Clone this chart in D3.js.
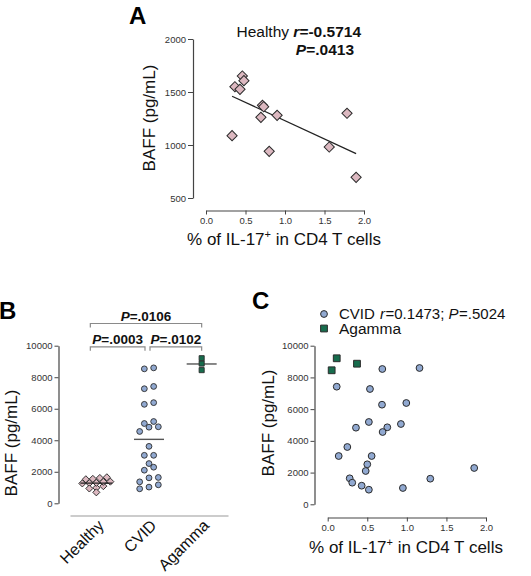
<!DOCTYPE html>
<html>
<head>
<meta charset="utf-8">
<script src="https://cdn.jsdelivr.net/npm/d3@7"></script>
<style>
  body { margin: 0; background: #fff; }
  svg { display: block; font-family: "Liberation Sans", Arial, sans-serif; }
</style>
</head>
<body>
<div id="chart"></div>
<script>
// values
const healthyIL17 = [0.33, 0.366, 0.43, 0.46, 0.48, 0.715, 0.73, 0.695, 0.90, 0.80, 1.56, 1.785, 1.90];
const healthyBAFF = [1088, 1550, 1525, 1651, 1607, 1374, 1361, 1261, 1280, 940, 981, 1299, 695];

const cvidIL17 = [0.69, 1.16, 0.114, 0.534, 0.686, 0.993, 0.52, 0.357, 0.753, 0.694, 0.925, 0.248,
                  0.139, 0.555, 0.50, 0.48, 1.851, 0.278, 1.296, 0.31, 0.429, 0.52, 0.95];
const cvidBAFF = [8531, 8594, 7415, 7270, 6280, 6387, 5190, 4830, 4855, 4558, 5063, 3613,
                  3045, 3045, 2522, 2100, 2290, 1639, 1614, 1362, 1173, 920, 1028];

const agammaIL17 = [0.05, 0.114, 0.37];
const agammaBAFF = [8450, 9206, 8865];

const groups = ['Healthy', 'CVID', 'Agamma'];
const groupBAFF = [healthyBAFF, cvidBAFF, agammaBAFF];

const pctTicks = [0, 0.5, 1, 1.5, 2];
const baffTicksA = [500, 1000, 1500, 2000];
const baffTicks = [0, 2000, 4000, 6000, 8000, 10000];

const brackets = [['Healthy', 'Agamma'], ['Healthy', 'CVID'], ['CVID', 'Agamma']];
const bracketP = ['.0106', '.0003', '.0102'];

const pink = '#dcb8c0', blue = '#91a9d1', green = '#176c4d', ink = '#2b2b2b';

const svg = d3.select('#chart').append('svg')
  .attr('width', 531)
  .attr('height', 576);

function styleAxis(g) {
  g.select('.domain').attr('stroke', '#444').attr('stroke-width', 1.2);
  g.selectAll('.tick line').attr('stroke', '#444');
  g.selectAll('.tick text').attr('fill', '#333').attr('font-size', 9.5)
    .attr('font-family', '"Liberation Sans", Arial, sans-serif');
}

function xTitle(x, y) {
  const t = svg.append('text')
    .attr('x', x).attr('y', y)
    .attr('text-anchor', 'middle')
    .attr('font-size', 17)
    .attr('fill', '#111');
  t.append('tspan').text('% of IL-17');
  t.append('tspan').attr('font-size', 11).attr('dy', -7).text('+');
  t.append('tspan').attr('dy', 7).text(' in CD4 T cells');
}

function yTitle(x, y) {
  svg.append('text')
    .attr('transform', 'translate(' + x + ',' + y + ') rotate(-90)')
    .attr('text-anchor', 'middle')
    .attr('font-size', 17)
    .attr('fill', '#111')
    .text('BAFF (pg/mL)');
}

function panelLabel(x, y, s) {
  svg.append('text')
    .attr('x', x).attr('y', y)
    .attr('font-size', 24)
    .attr('font-weight', 'bold')
    .attr('fill', '#000')
    .text(s);
}

const diamond = (size) => d3.symbol(d3.symbolSquare, size)();
const plain = d3.format('d');

// ---------- panel A ----------
let xA = d3.scaleLinear().domain([0, 2]).range([206, 364]);
let yA = d3.scaleLinear().domain([500, 2000]).range([198, 39]);

svg.append('g')
  .attr('transform', 'translate(193,0)')
  .call(d3.axisLeft(yA).tickValues(baffTicksA).tickFormat(plain).tickSize(5).tickSizeOuter(0).tickPadding(2))
  .call(styleAxis);

svg.append('g')
  .attr('transform', 'translate(0,210.5)')
  .call(d3.axisBottom(xA).tickValues(pctTicks).tickFormat(d3.format('.1f')).tickSize(4).tickSizeOuter(0).tickPadding(3))
  .call(styleAxis);

// least squares fit through the healthy points
const mx = d3.mean(healthyIL17), my = d3.mean(healthyBAFF);
const slope = d3.sum(healthyIL17, (v, i) => (v - mx) * (healthyBAFF[i] - my)) /
              d3.sum(healthyIL17, (v) => (v - mx) * (v - mx));
const fitX = d3.extent(healthyIL17);

svg.append('path')
  .datum(fitX)
  .attr('fill', 'none')
  .attr('stroke', '#222')
  .attr('stroke-width', 1.3)
  .attr('d', d3.line()
    .x((d) => xA(d))
    .y((d) => yA(my + slope * (d - mx))));

svg.append('g')
  .selectAll('path')
  .data(healthyIL17)
  .join('path')
    .attr('transform', (d, i) => 'translate(' + xA(d) + ',' + yA(healthyBAFF[i]) + ') rotate(45)')
    .attr('d', diamond(52))
    .attr('fill', pink)
    .attr('stroke', ink)
    .attr('stroke-width', 1);

let annA = svg.append('text')
  .attr('x', 361).attr('y', 37)
  .attr('text-anchor', 'end')
  .attr('font-size', 15.5)
  .attr('fill', '#111');
annA.append('tspan').text('Healthy ');
annA.append('tspan').attr('font-weight', 'bold').attr('font-style', 'italic').text('r');
annA.append('tspan').attr('font-weight', 'bold').text('=-0.5714');

let annA2 = svg.append('text')
  .attr('x', 354).attr('y', 55)
  .attr('text-anchor', 'end')
  .attr('font-size', 15.5)
  .attr('font-weight', 'bold')
  .attr('fill', '#111');
annA2.append('tspan').attr('font-style', 'italic').text('P');
annA2.append('tspan').text('=.0413');

panelLabel(129, 24, 'A');
yTitle(155, 118);
xTitle(284, 245);

// ---------- panel B ----------
let xB = d3.scalePoint().domain(groups).range([70, 228]).padding(0.5);
let yB = d3.scaleLinear().domain([0, 10000]).range([503.3, 345.7]);

svg.append('g')
  .attr('transform', 'translate(58.5,0)')
  .call(d3.axisLeft(yB).tickValues(baffTicks).tickFormat(plain).tickSize(4).tickSizeOuter(0).tickPadding(2))
  .call(styleAxis);

let gxB = svg.append('g')
  .attr('transform', 'translate(0,515.5)')
  .call(d3.axisBottom(xB).tickSize(0).tickSizeOuter(0))
  .call(styleAxis);
gxB.select('.domain').attr('stroke', '#999');
gxB.selectAll('.tick text')
  .attr('font-size', 16)
  .attr('fill', '#111')
  .attr('text-anchor', 'end')
  .attr('dy', '0')
  .attr('y', 0)
  .attr('transform', 'translate(8,11) rotate(-45)');

// Prism-like column scatter: points close in y share a row, centred on the group
function swarm(values, y, step) {
  const idx = d3.range(values.length).sort((a, b) => values[a] - values[b]);
  const off = new Array(values.length).fill(0);
  let row = [];
  const flush = () => {
    row.forEach((k, i) => { off[k] = (i - (row.length - 1) / 2) * step; });
    row = [];
  };
  idx.forEach((k) => {
    if (row.length && Math.abs(y(values[k]) - y(values[row[0]])) > step * 0.55) flush();
    row.push(k);
  });
  flush();
  return off;
}

// mean lines
svg.append('g')
  .selectAll('line')
  .data(groups)
  .join('line')
    .attr('x1', (d) => xB(d) - 15)
    .attr('x2', (d) => xB(d) + 15)
    .attr('y1', (d, i) => yB(d3.mean(groupBAFF[i])))
    .attr('y2', (d, i) => yB(d3.mean(groupBAFF[i])))
    .attr('stroke', '#555')
    .attr('stroke-width', 1.4);

const offH = swarm(healthyBAFF, yB, 7);
svg.append('g')
  .selectAll('path')
  .data(healthyBAFF)
  .join('path')
    .attr('transform', (d, i) => 'translate(' + (xB('Healthy') + offH[i]) + ',' + yB(d) + ') rotate(45)')
    .attr('d', diamond(25))
    .attr('fill', pink)
    .attr('stroke', ink)
    .attr('stroke-width', 0.9);

// redraw healthy mean over the diamonds, as in the figure
svg.append('line')
  .attr('x1', xB('Healthy') - 16).attr('x2', xB('Healthy') + 16)
  .attr('y1', yB(d3.mean(healthyBAFF))).attr('y2', yB(d3.mean(healthyBAFF)))
  .attr('stroke', '#222').attr('stroke-width', 1.3);

const offC = swarm(cvidBAFF, yB, 9.33);
svg.append('g')
  .selectAll('circle')
  .data(cvidBAFF)
  .join('circle')
    .attr('cx', (d, i) => xB('CVID') + offC[i])
    .attr('cy', (d) => yB(d))
    .attr('r', 2.9)
    .attr('fill', blue)
    .attr('stroke', ink)
    .attr('stroke-width', 0.9);

const offG = swarm(agammaBAFF, yB, 9.33);
svg.append('g')
  .selectAll('path')
  .data(agammaBAFF)
  .join('path')
    .attr('transform', (d, i) => 'translate(' + (xB('Agamma') + offG[i]) + ',' + yB(d) + ')')
    .attr('d', diamond(26))
    .attr('fill', green)
    .attr('stroke', ink)
    .attr('stroke-width', 0.9);

// significance brackets
const bracketY = [323.5, 346.8, 346.8];
brackets.forEach((pair, i) => {
  const x1 = xB(pair[0]) - (pair[0] === 'Healthy' ? 6 : -1);
  const x2 = xB(pair[1]) - (pair[1] === 'CVID' ? 4 : 0);
  const y = bracketY[i];
  svg.append('path')
    .attr('d', 'M' + x1 + ',' + (y + 4) + 'V' + y + 'H' + x2 + 'V' + (y + 4))
    .attr('fill', 'none')
    .attr('stroke', '#8a8a8a')
    .attr('stroke-width', 1.2);
  const t = svg.append('text')
    .attr('x', (x1 + x2) / 2)
    .attr('y', y - 2.5)
    .attr('text-anchor', 'middle')
    .attr('font-size', 13.5)
    .attr('font-weight', 'bold')
    .attr('fill', '#111');
  t.append('tspan').attr('font-style', 'italic').text('P');
  t.append('tspan').text('=' + bracketP[i]);
});

panelLabel(-1, 319, 'B');
yTitle(17, 443);

// ---------- panel C ----------
let xC = d3.scaleLinear().domain([0, 2]).range([327.7, 486]);
let yC = d3.scaleLinear().domain([0, 10000]).range([504.3, 345.7]);

svg.append('g')
  .attr('transform', 'translate(314.5,0)')
  .call(d3.axisLeft(yC).tickValues(baffTicks).tickFormat(plain).tickSize(4).tickSizeOuter(0).tickPadding(2))
  .call(styleAxis);

svg.append('g')
  .attr('transform', 'translate(0,517.5)')
  .call(d3.axisBottom(xC).tickValues(pctTicks).tickFormat(d3.format('.1f')).tickSize(4).tickSizeOuter(0).tickPadding(3))
  .call(styleAxis);

svg.append('g')
  .selectAll('circle')
  .data(cvidBAFF)
  .join('circle')
    .attr('cx', (d, i) => xC(cvidIL17[i]))
    .attr('cy', (d) => yC(d))
    .attr('r', 3.4)
    .attr('fill', blue)
    .attr('stroke', ink)
    .attr('stroke-width', 1);

svg.append('g')
  .selectAll('path')
  .data(agammaBAFF)
  .join('path')
    .attr('transform', (d, i) => 'translate(' + xC(agammaIL17[i]) + ',' + yC(d) + ')')
    .attr('d', diamond(46))
    .attr('fill', green)
    .attr('stroke', ink)
    .attr('stroke-width', 1);

// legend
svg.append('circle')
  .attr('cx', 324).attr('cy', 314).attr('r', 3.4)
  .attr('fill', blue).attr('stroke', ink).attr('stroke-width', 1);
let lg1 = svg.append('text')
  .attr('x', 339).attr('y', 319)
  .attr('font-size', 15)
  .attr('fill', '#111');
lg1.append('tspan').text('CVID ');
lg1.append('tspan').attr('font-style', 'italic').attr('dx', 1).text('r');
lg1.append('tspan').attr('dx', 0.5).text('=0.1473; ');
lg1.append('tspan').attr('font-style', 'italic').text('P');
lg1.append('tspan').attr('dx', 0.5).text('=.5024');

svg.append('path')
  .attr('transform', 'translate(324,328.5)')
  .attr('d', diamond(46))
  .attr('fill', green).attr('stroke', ink).attr('stroke-width', 1);
svg.append('text')
  .attr('x', 339).attr('y', 334)
  .attr('font-size', 15.5)
  .attr('fill', '#111')
  .text('Agamma');

panelLabel(252, 309, 'C');
yTitle(274, 423);
xTitle(406, 553);
</script>
</body>
</html>
